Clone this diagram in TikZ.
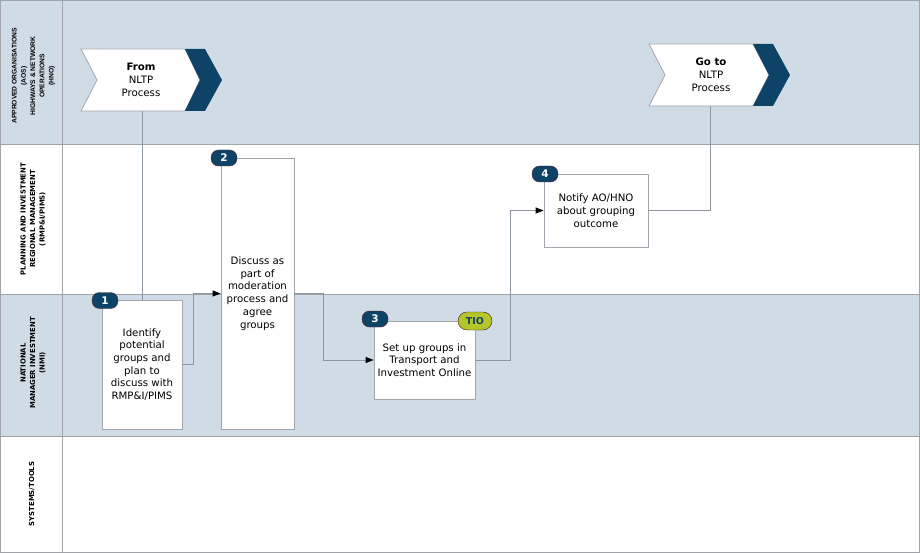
\documentclass[tikz,border=0pt]{standalone}
\usepackage{fontspec}
\setmainfont{DejaVu Sans}
\newfontfamily\lanefont{Liberation Sans}
\newfontfamily\lanefontb{DejaVu Sans}
\usetikzlibrary{arrows.meta}
\definecolor{lanebg}{HTML}{D0DCE5}
\definecolor{navy}{HTML}{0E4368}
\definecolor{linegrey}{HTML}{8C96A0}
\definecolor{boxgrey}{HTML}{A3A6AE}
\definecolor{tiocol}{HTML}{B5C52A}
\definecolor{badgeline}{HTML}{5A2030}
\definecolor{lanegrey}{HTML}{A0A4A8}
\begin{document}
\begin{tikzpicture}[x=1pt,y=-1pt,
  procbox/.style={draw=boxgrey,fill=white,line width=0.8pt,rectangle,inner sep=2pt,align=center,font=\fontsize{10.2}{12.7}\selectfont},
  badge/.style={draw=badgeline,fill=navy,text=white,rounded corners=7.5pt,minimum width=26pt,minimum height=16pt,inner sep=0pt,font=\bfseries\fontsize{10.5}{11}\selectfont},
  tiobadge/.style={draw=badgeline!70!black,fill=tiocol,text=navy,rounded corners=9pt,minimum width=34pt,minimum height=18pt,inner sep=0pt,font=\bfseries\fontsize{9.5}{10}\selectfont},
  conn/.style={draw=linegrey,line width=0.8pt},
  arr/.style={conn,-{Triangle[length=8pt,width=6pt,color=black]}},
  lanelab/.style={rotate=90,align=center,font=\lanefontb\bfseries\fontsize{6.9}{9.5}\selectfont},
  chevtext/.style={align=center,font=\fontsize{10.2}{13}\selectfont}
]
\useasboundingbox (0,0) rectangle (920,553);
% lanes
\fill[lanebg] (0,0) rectangle (920,144);
\fill[white] (0,144) rectangle (920,294);
\fill[lanebg] (0,294) rectangle (920,436);
\fill[white] (0,436) rectangle (920,553);
\draw[lanegrey,line width=0.8pt] (0,144) -- (920,144) (0,294) -- (920,294) (0,436) -- (920,436);
\draw[lanegrey,line width=0.8pt] (62,0) -- (62,553);
\draw[lanegrey,line width=1pt] (0.5,0.5) rectangle (919.5,552.5);
% lane labels
\node[lanelab,font=\lanefont\bfseries\fontsize{6.7}{9.2}\selectfont] (l1) at (33.5,76) {APPROVED ORGANISATIONS\\(AOS)\\HIGHWAYS \& NETWORK\\OPERATIONS\\(HNO)};
\node[lanelab] (l2) at (33,219) {PLANNING AND INVESTMENT\\REGIONAL MANAGEMENT\\(RMP\&I/PIMS)};
\node[lanelab] (l3) at (33,363) {NATIONAL\\MANAGER INVESTMENT\\(NMI)};
\node[lanelab] (l4) at (32,494) {SYSTEMS/TOOLS};
% From chevron
\filldraw[fill=white,draw=boxgrey,line width=0.8pt] (81,49) -- (185,49) -- (200,80) -- (185,111) -- (81,111) -- (97,80) -- cycle;
\fill[navy] (185,49) -- (205,49) -- (222,80) -- (205,111) -- (185,111) -- (200,80) -- cycle;
\node[chevtext] (from) at (141,80) {\textbf{From}\\NLTP\\Process};
\coordinate (fromb) at (142,111);
% Go to chevron
\filldraw[fill=white,draw=boxgrey,line width=0.8pt] (649,44) -- (753,44) -- (769,75) -- (753,106) -- (649,106) -- (665,75) -- cycle;
\fill[navy] (753,44) -- (773,44) -- (790,75) -- (773,106) -- (753,106) -- (769,75) -- cycle;
\node[chevtext] (goto) at (711,75) {\textbf{Go to}\\NLTP\\Process};
\coordinate (gotob) at (710,106);
% boxes
\node[procbox,minimum width=80pt,minimum height=129pt] (b1) at (142,364.5) {Identify\\potential\\groups and\\plan to\\discuss with\\RMP\&I/PIMS};
\node[procbox,minimum width=73pt,minimum height=271pt] (b2) at (257.5,293.5) {Discuss as\\part of\\moderation\\process and\\agree\\groups};
\node[procbox,minimum width=101pt,minimum height=78pt] (b3) at (424.5,360) {Set up groups in\\Transport and\\Investment Online};
\node[procbox,minimum width=104pt,minimum height=73pt] (b4) at (596,210.5) {Notify AO/HNO\\about grouping\\outcome};
% connectors
\draw[conn] (fromb) -- (b1.north);
\draw[arr] (b1.east) -- ++(11,0) |- (b2.west);
\draw[arr] (b2.east) -- ++(29,0) |- (b3.west);
\draw[arr] (b3.east) -- ++(35,0) |- (b4.west);
\draw[conn] (b4.east) -| (gotob);
% badges
\node[badge] (n1) at (105,300.5) {1};
\node[badge] (n2) at (224,158) {2};
\node[badge] (n3) at (375,319) {3};
\node[badge] (n4) at (545,174) {4};
\node[tiobadge] (tio) at (475,321) {TIO};
\end{tikzpicture}
\end{document}
